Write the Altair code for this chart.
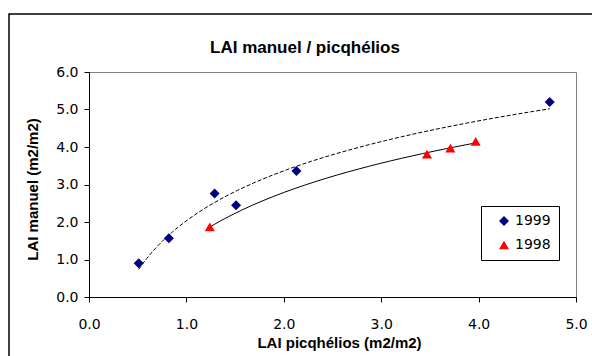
import altair as alt
import pandas as pd

# Data
x_1999 = [0.51, 0.82, 1.29, 1.51, 2.13, 4.73]
y_1999 = [0.90, 1.57, 2.76, 2.45, 3.36, 5.20]
x_1998 = [1.24, 3.47, 3.71, 3.97]
y_1998 = [1.87, 3.81, 3.97, 4.15]
years = ["1999", "1998"]
colors = ["#000080", "#FF0000"]
shapes = ["diamond", "triangle-up"]
x_ticks = [0, 1, 2, 3, 4, 5]
y_ticks = [0, 1, 2, 3, 4, 5, 6]
chart_title = "LAI manuel / picqhélios"

df = pd.DataFrame({
    "x": x_1999 + x_1998,
    "y": y_1999 + y_1998,
    "year": ["1999"] * len(x_1999) + ["1998"] * len(x_1998),
})

TICK_FONT = "DejaVu Sans"
TITLE_FONT = "Liberation Sans"

xs = alt.Scale(domain=[0, 5], nice=False, zero=False)
ys = alt.Scale(domain=[0, 6], nice=False)

xax = alt.Axis(values=x_ticks, format=".1f", title="LAI picqhélios (m2/m2)",
               grid=False, labelPadding=15, titleY=50, titleX=250,
               titleBaseline="alphabetic", labelOverlap=False, labelFlush=False)
yax = alt.Axis(values=y_ticks, format=".1f", title="LAI manuel (m2/m2)",
               grid=False, labelPadding=6, titleX=-52, titleY=117,
               titleBaseline="alphabetic", titleAngle=270,
               labelOverlap=False, labelFlush=False)

X = alt.X("x:Q", scale=xs, axis=xax)
Y = alt.Y("y:Q", scale=ys, axis=yax)

base = alt.Chart(df)

points = base.mark_point(filled=True, size=100, opacity=1).encode(
    x=X, y=Y,
    color=alt.Color("year:N", scale=alt.Scale(domain=years, range=colors),
                    legend=alt.Legend(title=None, orient="none", legendX=392, legendY=134,
                                      strokeColor="black", fillColor="white",
                                      padding=8, rowPadding=10, symbolOffset=8,
                                      labelOffset=4, labelFontSize=14, labelFont=TICK_FONT,
                                      labelColor="black", symbolStrokeWidth=0,
                                      symbolSize=100)),
    shape=alt.Shape("year:N", scale=alt.Scale(domain=years, range=shapes),
                    legend=alt.Legend(title=None, orient="none", legendX=392, legendY=134)),
)

fit99 = base.transform_filter(alt.datum.year == "1999").transform_regression(
    "x", "y", method="log").mark_line(color="black", strokeWidth=1, strokeDash=[4, 2]).encode(
    x=X, y=Y)

fit98 = base.transform_filter(alt.datum.year == "1998").transform_regression(
    "x", "y", method="log").mark_line(color="black", strokeWidth=1).encode(
    x=X, y=Y)

one = pd.DataFrame({"t": [chart_title]})

frame = alt.Chart(one).mark_rect(
    fill=None, stroke="black", strokeWidth=1.5).encode(
    x=alt.value(-80), x2=alt.value(900), y=alt.value(-58), y2=alt.value(700))

title = alt.Chart(one).mark_text(
    font=TITLE_FONT, fontSize=17, fontWeight="bold", color="black",
    align="center", baseline="alphabetic").encode(
    text="t:N", x=alt.value(216), y=alt.value(-19))

chart = alt.layer(fit99, fit98, points, frame, title).properties(
    width=487, height=225,
    autosize=alt.AutoSizeParams(type="none"),
    padding={"left": 89, "top": 72, "right": 16, "bottom": 59},
    background="white",
).configure_view(stroke="#808080", strokeWidth=1).configure_axis(
    domainColor="black", tickColor="black", tickSize=5, labelFont=TICK_FONT,
    labelFontSize=14, labelColor="black", titleFont=TITLE_FONT, titleFontSize=15,
    titleFontWeight="bold", titleColor="black", domainWidth=1, tickWidth=1,
)

chart.save("out.html", embed_options={"renderer": "svg", "actions": False})
